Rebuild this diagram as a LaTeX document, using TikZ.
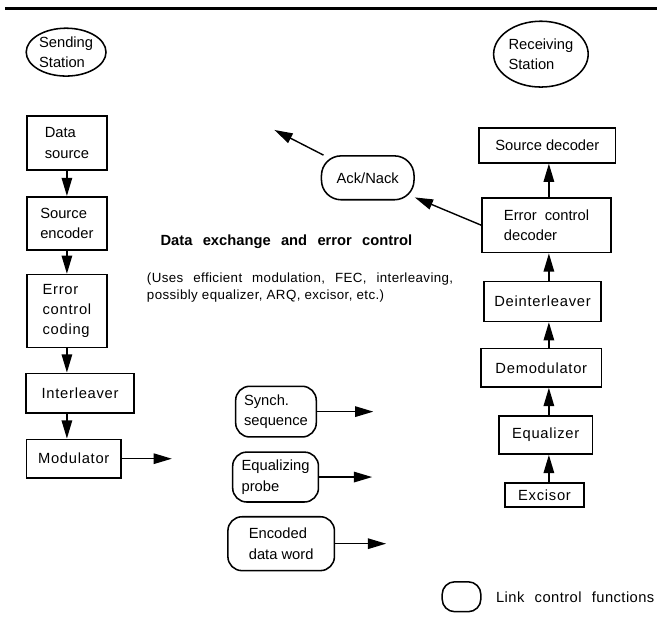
\documentclass[tikz,border=0pt]{standalone}
\usepackage{fontspec}
\setmainfont{Liberation Sans}
\usepackage{tikz}
\usetikzlibrary{calc}
\usetikzlibrary{positioning}
\usetikzlibrary{shapes.geometric}
\usetikzlibrary{arrows.meta}
\newcommand\wordsp[1]{\spaceskip=#1\relax}

\begin{document}
\begin{tikzpicture}[
  box/.style={draw,line width=1.1pt,align=left,inner sep=0pt,font=\fontsize{10.5}{14.5}\selectfont},
  spaced/.style={font=\fontsize{10.5}{14.5}\selectfont\addfontfeatures{LetterSpace=5}},
  lcf/.style={box,rounded corners=10pt},
  station/.style={box,ellipse},
  arr/.style={line width=1pt,-{Triangle[length=13pt,width=7.5pt]}}
]
\draw[opacity=0] (0,0) rectangle (16.45,15.65);
\draw[line width=2pt] (0.12,15.45) -- (16.45,15.45);

% sending side
\node[station,minimum width=2cm,minimum height=1.2cm] (send) at (1.65,14.35) {Sending\\Station};
\node[box,minimum width=2cm,minimum height=1.35cm] (dsrc) at (1.67,12.07) {Data\\source};
\node[box,minimum width=2cm,minimum height=1.33cm] (senc) at (1.67,10.06) {Source\\encoder};
\node[box,spaced,minimum width=2cm,minimum height=1.83cm] (ecc) at (1.67,7.86) {Error\\control\\coding};
\node[box,spaced,minimum width=2.7cm,minimum height=1cm] (intl) at (2,5.8) {Interleaver};
\node[box,spaced,minimum width=2.37cm,minimum height=0.97cm] (mod) at (1.84,4.16) {Modulator};
\coordinate (modout) at (4.3,4.16);

\draw[arr] (dsrc.south) -- (senc.north);
\draw[arr] (senc.south) -- (ecc.north);
\draw[arr] (ecc.south) -- (ecc.south |- intl.north);
\draw[arr] (ecc.south |- intl.south) -- (ecc.south |- mod.north);
\draw[arr] (mod.east) -- (modout);

% receiving side
\node[station,minimum width=2.37cm,minimum height=1.65cm] (recv) at (13.55,14.3) {Receiving\\Station};
\node[box,minimum width=3.42cm,minimum height=0.87cm] (sdec) at (13.71,12.01) {Source decoder};
\node[box,minimum width=3.22cm,minimum height=1.37cm] (ecd) at (13.69,10.01) {Error~~control\\decoder};
\node[box,spaced,minimum width=2.92cm,minimum height=1cm] (dint) at (13.59,8.1) {Deinterleaver};
\node[box,spaced,minimum width=3.02cm,minimum height=0.97cm] (demod) at (13.56,6.44) {Demodulator};
\node[box,spaced,minimum width=2.35cm,minimum height=0.95cm] (eql) at (13.67,4.75) {Equalizer};
\node[box,spaced,minimum width=1.97cm,minimum height=0.6cm] (exc) at (13.64,3.25) {Excisor};
\coordinate (rx) at (13.75,0);

\draw[arr] (exc.north -| rx) -- (eql.south -| rx);
\draw[arr] (eql.north -| rx) -- (demod.south -| rx);
\draw[arr] (demod.north -| rx) -- (dint.south -| rx);
\draw[arr] (dint.north -| rx) -- (ecd.south -| rx);
\draw[arr] (ecd.north -| rx) -- (sdec.south -| rx);

% ack/nack
\node[lcf,rounded corners=14pt,minimum width=2.32cm,minimum height=1.1cm] (ack) at (9.21,11.2) {Ack/Nack};
\coordinate (acktip) at (6.87,12.4);
\draw[arr] (ecd.west) -- (ack);
\draw[arr] (ack) -- (acktip);

% middle
\node[font=\fontsize{10.5}{13}\selectfont\bfseries] (title) at (7.17,9.6) {\wordsp{0.7em}Data exchange and error control};
\node[anchor=west,align=left,inner sep=0pt,font=\fontsize{9.5}{12}\selectfont\addfontfeatures{LetterSpace=3}] (sub) at (3.67,8.46)
  {\wordsp{0.75em}(Uses efficient modulation, FEC, interleaving,\\possibly equalizer, ARQ, excisor, etc.)};

\node[lcf,minimum width=2.02cm,minimum height=1.27cm] (synch) at (6.91,5.34) {Synch.\\sequence};
\node[lcf,minimum width=2.15cm,minimum height=1.25cm] (probe) at (6.9,3.7) {Equalizing\\probe};
\node[lcf,minimum width=2.67cm,minimum height=1.35cm] (word) at (7.04,2.03) {Encoded\\data word};
\coordinate (synchout) at (9.35,5.34);
\coordinate (probeout) at (9.32,3.7);
\coordinate (wordout) at (9.67,2.03);
\draw[arr] (synch.east) -- (synchout);
\draw[arr] (probe.east) -- (probeout);
\draw[arr] (word.east) -- (wordout);

% legend
\node[lcf,rounded corners=9pt,minimum width=0.97cm,minimum height=0.75cm] (key) at (11.56,0.7) {};
\node[anchor=west,inner sep=0pt,font=\fontsize{10.5}{13}\selectfont\addfontfeatures{LetterSpace=3}] (keytext) at (12.42,0.7) {\wordsp{0.7em}Link control functions};
\end{tikzpicture}
\end{document}
